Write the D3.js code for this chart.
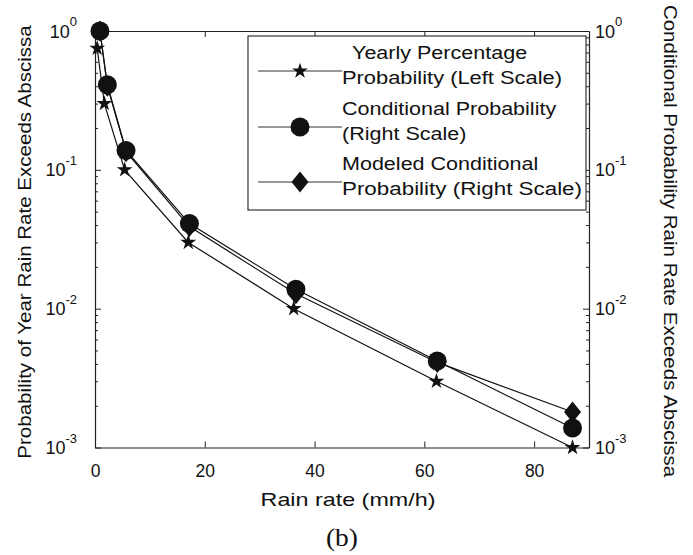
<!DOCTYPE html>
<html>
<head>
<meta charset="utf-8">
<script src="https://cdn.jsdelivr.net/npm/d3@7"></script>
<style>
  html, body { margin: 0; padding: 0; background: #fff; }
  svg { display: block; }
</style>
</head>
<body>
<svg id="chart" width="693" height="555"></svg>
<script>
// Rain rate thresholds (mm/h) for each series
const rainRateYearly = [0.4, 1.7, 5.4, 17.0, 36.2, 62.2, 87.0];
const rainRateCond   = [0.9, 2.25, 5.65, 17.2, 36.6, 62.35, 87.0];

// Yearly percentage probability (left scale)
const yearlyProb = [0.75, 0.30, 0.10, 0.030, 0.010, 0.0030, 0.0010];
// Conditional probability (right scale)
const condProb = [1.0, 0.41, 0.138, 0.041, 0.0138, 0.0042, 0.00138];
// Modeled conditional probability (right scale)
const modeledProb = [1.0, 0.40, 0.135, 0.039, 0.0128, 0.0041, 0.0018];

// Axis ticks
const xTicks = [0, 20, 40, 60, 80];
const yMajor = [1e-3, 1e-2, 1e-1, 1];
const yMajorExp = ["-3", "-2", "-1", "0"];

// Legend entries (two text lines each)
const legendLabels = [
  ["Yearly Percentage", "Probability (Left Scale)"],
  ["Conditional Probability", "(Right Scale)"],
  ["Modeled Conditional", "Probability (Right Scale)"]
];
const legendMarkers = ["star", "circle", "diamond"];

const SANS = "'Liberation Sans', Arial, sans-serif";
const SERIF = "'Liberation Serif', 'Times New Roman', serif";

const svg = d3.select("#chart");
const L = 95, R = 589, T = 31, B = 447.5;

const x = d3.scaleLinear().domain([0, 90]).range([L, R]);
const yLeft = d3.scaleLog().domain([1e-3, 1]).range([B, T]);
const yRight = d3.scaleLog().domain([1e-3, 1]).range([B, T]);

// widen glyphs horizontally (the lettering is a wide sans)
function stretch(sel, k, target) {
  sel.each(function () {
    const len = target || this.getComputedTextLength() * k;
    d3.select(this).attr("textLength", len).attr("lengthAdjust", "spacingAndGlyphs");
  });
}

// marker shapes
const diamondType = {
  draw(ctx) {
    ctx.moveTo(0, -10.5); ctx.lineTo(8.5, 0); ctx.lineTo(0, 10.5); ctx.lineTo(-8.5, 0); ctx.closePath();
  }
};
const markerPath = {
  star: d3.symbol().type(d3.symbolStar).size(78)(),
  circle: d3.symbol().type(d3.symbolCircle).size(Math.PI * 9.5 * 9.5)(),
  diamond: d3.symbol().type(diamondType)()
};

// axes
const axisStyle = g => {
  g.selectAll("path.domain").attr("stroke", "#222").attr("stroke-width", 1.1);
  g.selectAll(".tick line").attr("stroke", "#222").attr("stroke-width", 1);
};

svg.append("g").attr("transform", `translate(0,${B})`)
  .call(d3.axisBottom(x).tickValues(xTicks).tickSizeInner(-6).tickSizeOuter(0).tickPadding(17))
  .call(axisStyle)
  .call(g => g.selectAll(".tick text").style("font-size", "17.5px").style("font-family", SANS).attr("fill", "#111"));

svg.append("g").attr("transform", `translate(0,${T})`)
  .call(d3.axisTop(x).tickValues(xTicks.slice(1)).tickSizeInner(-6).tickSizeOuter(0).tickFormat(""))
  .call(axisStyle);

const minorTicks = yLeft.ticks().filter(v => !yMajor.some(m => Math.abs(m - v) / m < 1e-6));

svg.append("g").attr("transform", `translate(${L},0)`)
  .call(d3.axisLeft(yLeft).tickValues(minorTicks).tickSizeInner(-3).tickSizeOuter(0).tickFormat(""))
  .call(axisStyle);
svg.append("g").attr("transform", `translate(${L},0)`)
  .call(d3.axisLeft(yLeft).tickValues(yMajor).tickSizeInner(-6).tickSizeOuter(0).tickFormat(""))
  .call(axisStyle);
svg.append("g").attr("transform", `translate(${R},0)`)
  .call(d3.axisRight(yRight).tickValues(minorTicks).tickSizeInner(-3).tickSizeOuter(0).tickFormat(""))
  .call(axisStyle);
svg.append("g").attr("transform", `translate(${R},0)`)
  .call(d3.axisRight(yRight).tickValues(yMajor).tickSizeInner(-6).tickSizeOuter(0).tickFormat(""))
  .call(axisStyle);

// power-of-ten tick labels
function powLabels(scale, xPos, anchor) {
  const t = svg.append("g").selectAll("text").data(yMajor).join("text")
    .attr("x", xPos).attr("y", d => scale(d) + 6.5)
    .attr("text-anchor", anchor).attr("fill", "#111")
    .style("font-family", SANS).style("font-size", "18px");
  t.append("tspan").text("10");
  t.append("tspan").attr("dy", -11.5).style("font-size", "13px").text((d, i) => yMajorExp[i]);
}
powLabels(yLeft, 77, "end");
powLabels(yRight, 595, "start");

// series
const series = [
  { xs: rainRateYearly, ys: yearlyProb, scale: yLeft, marker: "star" },
  { xs: rainRateCond, ys: modeledProb, scale: yRight, marker: "diamond" },
  { xs: rainRateCond, ys: condProb, scale: yRight, marker: "circle" }
];
const line = d3.line();
series.forEach(s => {
  const pts = s.xs.map((v, i) => [x(v), s.scale(s.ys[i])]);
  svg.append("path").attr("d", line(pts)).attr("fill", "none")
    .attr("stroke", "#111").attr("stroke-width", 1.2);
});
series.forEach(s => {
  svg.append("g").selectAll("path").data(s.xs).join("path")
    .attr("transform", (v, i) => `translate(${x(v)},${s.scale(s.ys[i])})`)
    .attr("d", markerPath[s.marker]).attr("fill", "#111");
});

// legend
const leg = svg.append("g");
leg.append("rect").attr("x", 248).attr("y", 36).attr("width", 338).attr("height", 174)
  .attr("fill", "#fff").attr("stroke", "#222").attr("stroke-width", 1.1);
const rowMarkerY = [71, 127, 182];
const lineIndent = [[10, 0], [0, 0], [0, 0]];
const lineWidth = [[null, 220], [null, null], [null, 240]];
legendLabels.forEach((lines, i) => {
  const my = rowMarkerY[i];
  leg.append("line").attr("x1", 258).attr("x2", 342).attr("y1", my).attr("y2", my)
    .attr("stroke", "#333").attr("stroke-width", 1.2);
  leg.append("path").attr("transform", `translate(300,${my})`)
    .attr("d", markerPath[legendMarkers[i]]).attr("fill", "#111");
  lines.forEach((txt, j) => {
    leg.append("text").attr("x", 342 + lineIndent[i][j]).attr("y", my - 12.5 + j * 25)
      .attr("fill", "#111").style("font-family", SANS).style("font-size", "17.5px")
      .text(txt).call(stretch, 1.23, lineWidth[i][j]);
  });
});

// axis titles
svg.append("text").attr("x", 348).attr("y", 506).attr("text-anchor", "middle")
  .attr("fill", "#111").style("font-family", SANS).style("font-size", "18.5px")
  .text("Rain rate (mm/h)").call(stretch, 1.26);
svg.append("text").attr("transform", "translate(31,242) rotate(-90)").attr("text-anchor", "middle")
  .attr("fill", "#111").style("font-family", SANS).style("font-size", "18px")
  .text("Probability of Year Rain Rate Exceeds Abscissa").call(stretch, 1.14);
svg.append("text").attr("transform", "translate(664,241) rotate(90)").attr("text-anchor", "middle")
  .attr("fill", "#111").style("font-family", SANS).style("font-size", "18px")
  .text("Conditional Probability Rain Rate Exceeds Abscissa").call(stretch, 1.14);
svg.append("text").attr("x", 342).attr("y", 546).attr("text-anchor", "middle")
  .attr("fill", "#111").style("font-family", SERIF).style("font-size", "25px")
  .text("(b)").call(stretch, 1.1);
</script>
</body>
</html>
